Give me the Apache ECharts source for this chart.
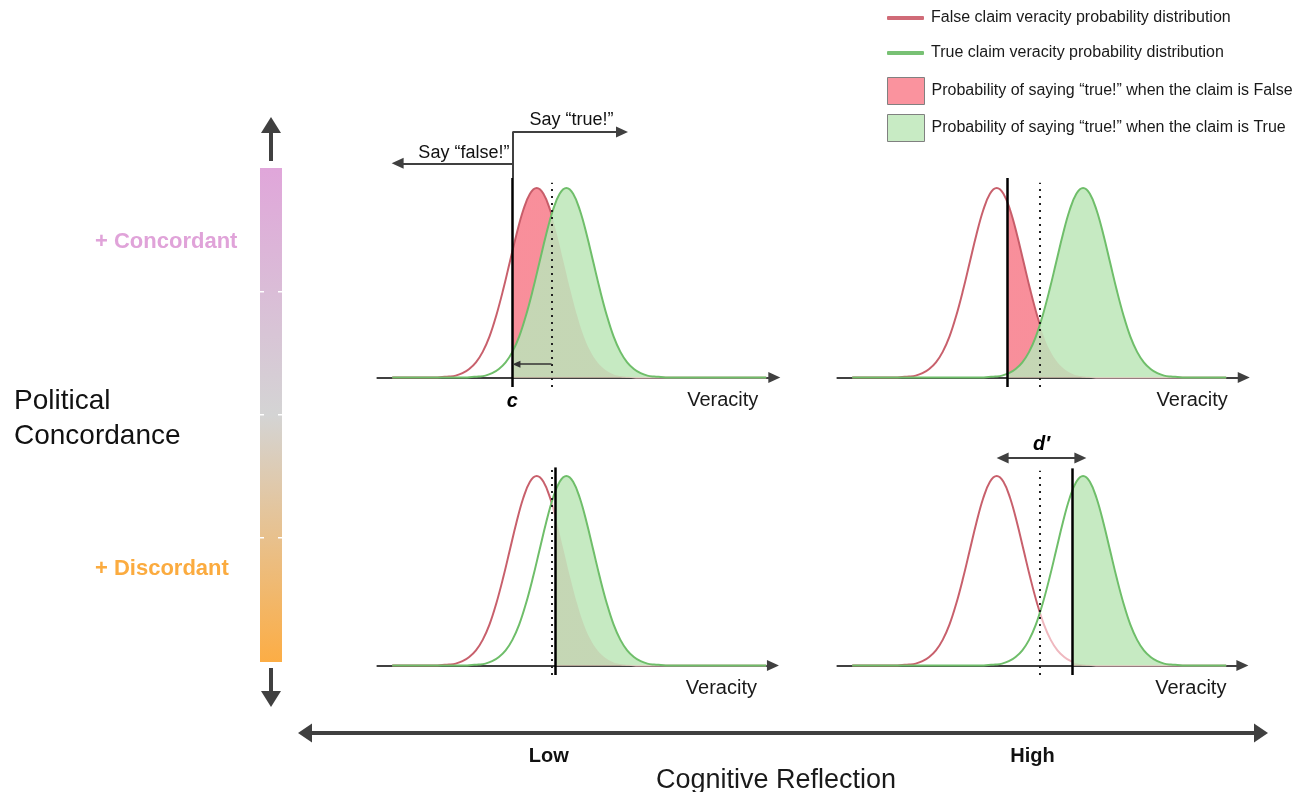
<!DOCTYPE html>
<html><head><meta charset="utf-8">
<script src="https://cdn.jsdelivr.net/npm/echarts@6/dist/echarts.min.js"></script>
<style>html,body{margin:0;padding:0;background:#fff}#chart{width:1313px;height:792px}</style>
</head><body><div id="chart"></div>
<script>
// ---------------- data ----------------
// panel order: top-left, top-right, bottom-left, bottom-right
const panelNames = ['Low reflection, concordant', 'High reflection, concordant', 'Low reflection, discordant', 'High reflection, discordant'];
const falseClaimMean = [0, 0, 0, 0];          // peak of the false-claim curve (veracity units)
const trueClaimMean = [1.1, 3.2, 1.1, 3.2];   // peak of the true-claim curve
const criterionC = [-0.9, 0.4, 0.7, 2.8];     // solid criterion line
const dottedMidpoint = [0.55, 1.6, 0.55, 1.6];// dotted neutral line (curves cross here)
const curveExtent = [-5.35, 8.5];             // where the drawn curves start / end
// curve height read at offsets from its peak
const profileOffset = [-4, -3.75, -3.5, -3.25, -3, -2.75, -2.5, -2.25, -2, -1.75, -1.5, -1.25, -1, -0.75, -0.5, -0.25, 0,
  0.25, 0.5, 0.75, 1, 1.25, 1.5, 1.75, 2, 2.25, 2.5, 2.75, 3, 3.25, 3.5, 3.75, 4];
const profileHeight = [0.000, 0.000, 0.001, 0.002, 0.004, 0.009, 0.018, 0.032, 0.054, 0.086, 0.130, 0.183, 0.242, 0.301, 0.352, 0.387, 0.399,
  0.387, 0.352, 0.301, 0.242, 0.183, 0.130, 0.086, 0.054, 0.032, 0.018, 0.009, 0.004, 0.002, 0.001, 0.000, 0.000];
const cognitiveLabels = ['Low', 'High'];
const cognitivePositions = [0.255, 0.761];
const nameFalseLine = 'False claim veracity probability distribution';
const nameTrueLine = 'True claim veracity probability distribution';
const nameFalseArea = 'Probability of saying \u201ctrue!\u201d when the claim is False';
const nameTrueArea = 'Probability of saying \u201ctrue!\u201d when the claim is True';

// ---------------- layout ----------------
const FONT = 'Liberation Sans, Arial, sans-serif';
const KX = 27, KY = 475;
const zeroPx = [536.7, 996.7, 536.7, 996.7];
const baseY = [377.5, 377.5, 665.5, 665.5];
const X_MIN = -5.9, xMaxs = [8.8, 9.15, 8.75, 9.1];
const Y_MIN = -0.02, Y_MAX = 0.53;
const critTop = [0.42, 0.42, 0.417, 0.415];
const dotTop = [0.41, 0.41, 0.417, 0.41];

function curve(mean) {
  const pts = [[curveExtent[0], 0]];
  profileOffset.forEach((o, i) => pts.push([mean + o, profileHeight[i]]));
  pts.push([curveExtent[1], 0]);
  return pts;
}
function stepGrad(x, before, after) {
  const o = Math.min(1, Math.max(0, (x - curveExtent[0]) / (curveExtent[1] - curveExtent[0])));
  return { type: 'linear', x: 0, y: 0, x2: 1, y2: 0,
    colorStops: [{ offset: 0, color: before }, { offset: o, color: before }, { offset: o, color: after }, { offset: 1, color: after }] };
}
const NONE = 'rgba(0,0,0,0)';

const grids = [], xAxes = [], yAxes = [], series = [];
for (let p = 0; p < 4; p++) {
  grids.push({ left: zeroPx[p] + X_MIN * KX, top: baseY[p] - Y_MAX * KY, width: (xMaxs[p] - X_MIN) * KX, height: (Y_MAX - Y_MIN) * KY,
    containLabel: false, outerBoundsMode: 'none' });
  xAxes.push({ gridIndex: p, type: 'value', min: X_MIN, max: xMaxs[p],
    axisLine: { onZero: true, lineStyle: { color: '#404040', width: 2 }, symbol: ['none', 'triangle'], symbolSize: [11, 12] },
    axisTick: { show: false }, axisLabel: { show: false }, splitLine: { show: false },
    name: 'Veracity', nameLocation: 'end', nameGap: -16,
    nameTextStyle: { fontSize: 20, color: '#1a1a1a', fontFamily: FONT, align: 'right', verticalAlign: 'top', padding: [13, 0, 0, 0] } });
  yAxes.push({ gridIndex: p, type: 'value', min: Y_MIN, max: Y_MAX, show: false });

  const red = curve(falseClaimMean[p]), green = curve(trueClaimMean[p]);
  const c = criterionC[p], mid = dottedMidpoint[p];
  const common = { type: 'line', xAxisIndex: p, yAxisIndex: p, smooth: 0.4, symbol: 'none', showSymbol: false, silent: true, clip: false, animation: false };
  series.push(Object.assign({}, common, { name: nameFalseArea, data: red, z: 1,
    lineStyle: { width: 0, color: '#fa939e' }, itemStyle: { color: '#fa939e' },
    areaStyle: { opacity: 1, color: stepGrad(c, NONE, '#ff9aa5') } }));
  series.push(Object.assign({}, common, { name: nameFalseLine, data: red, z: 2,
    itemStyle: { color: '#c8606c' },
    lineStyle: { width: 2, color: stepGrad(mid, '#c8606c', '#efb8bf') } }));
  series.push(Object.assign({}, common, { name: nameTrueArea, data: green, z: 3,
    lineStyle: { width: 0, color: '#c6eac2' }, itemStyle: { color: '#c6eac2' },
    areaStyle: { opacity: 1, color: stepGrad(c, NONE, '#c6eac2') } }));
  series.push(Object.assign({}, common, { name: 'overlap', data: red, z: 4,
    lineStyle: { width: 0 }, areaStyle: { opacity: 1, color: stepGrad(c, NONE, 'rgba(188,44,64,0.1)') } }));

  const ml = [
    [{ coord: [c, Y_MIN], lineStyle: { color: '#000', width: 2.5, type: 'solid' },
       label: p === 0 ? { show: true, position: 'start', formatter: 'c', distance: 4, fontSize: 20, fontStyle: 'italic', fontWeight: 'bold', color: '#000', fontFamily: FONT } : { show: false } },
     { coord: [c, critTop[p]] }],
    [{ coord: [mid, Y_MIN], lineStyle: { color: '#222', width: 2, type: [2, 5] } }, { coord: [mid, dotTop[p]] }]
  ];
  if (p === 0) {
    ml.push([{ coord: [mid, 0.028], lineStyle: { color: '#333', width: 1.5, type: 'solid' } },
             { coord: [c + 0.15, 0.028], symbol: 'triangle', symbolSize: [7, 8] }]);
    ml.push([{ coord: [c, 0.42], lineStyle: { color: '#404040', width: 2, type: 'solid' } }, { coord: [c, 0.517] }]);
    ml.push([{ coord: [c, 0.517], lineStyle: { color: '#404040', width: 2, type: 'solid' },
               label: { show: true, position: 'insideStartTop', formatter: 'Say \u201ctrue!\u201d', distance: [17, 3], fontSize: 18, color: '#111', fontFamily: FONT } },
             { coord: [3.16, 0.517], symbol: 'triangle', symbolSize: [11, 12] }]);
    ml.push([{ coord: [c, 0.451], lineStyle: { color: '#404040', width: 2, type: 'solid' },
               label: { show: true, position: 'insideStartTop', formatter: 'Say \u201cfalse!\u201d', distance: [3, 1], fontSize: 18, color: '#111', fontFamily: FONT } },
             { coord: [-5.15, 0.451], symbol: 'triangle', symbolSize: [11, 12] }]);
  }
  if (p === 3) {
    ml.push([{ coord: [0.22, 0.437], symbol: 'triangle', symbolSize: [11, 12], lineStyle: { color: '#404040', width: 2, type: 'solid' },
               label: { show: true, position: 'middle', formatter: 'd\u2032', distance: 3, fontSize: 20, fontStyle: 'italic', fontWeight: 'bold', color: '#000', fontFamily: FONT } },
             { coord: [3.1, 0.437], symbol: 'triangle', symbolSize: [11, 12] }]);
  }
  series.push(Object.assign({}, common, { name: nameTrueLine, data: green, z: 5,
    itemStyle: { color: '#6fbe6a' }, lineStyle: { width: 2, color: '#6fbe6a' },
    markLine: { silent: true, animation: false, z: 10, symbol: ['none', 'none'], label: { show: false }, emphasis: { disabled: true }, data: ml } }));
}
// Cognitive reflection axis
grids.push({ left: 305, width: 956, top: 700, height: 33, containLabel: false, outerBoundsMode: 'none' });
xAxes.push({ gridIndex: 4, type: 'value', min: 0, max: 1,
  axisLine: { onZero: false, lineStyle: { color: '#404040', width: 4 }, symbol: ['triangle', 'triangle'], symbolSize: [19, 14] },
  axisTick: { show: false }, splitLine: { show: false },
  axisLabel: { customValues: cognitivePositions, margin: 13, fontSize: 20, fontWeight: 'bold', color: '#111', fontFamily: FONT,
    formatter: v => { let b = 0; cognitivePositions.forEach((q, i) => { if (Math.abs(q - v) < Math.abs(cognitivePositions[b] - v)) b = i; }); return cognitiveLabels[b]; } },
  name: 'Cognitive Reflection', nameLocation: 'middle', nameGap: 27,
  nameTextStyle: { fontSize: 27, color: '#1a1a1a', fontFamily: FONT, padding: [0, 14, 0, 0] } });
yAxes.push({ gridIndex: 4, type: 'value', min: 0, max: 1, show: false });

const barGrad = { type: 'linear', x: 0, y: 0, x2: 0, y2: 1,
  colorStops: [{ offset: 0, color: '#e0a6da' }, { offset: 0.5, color: '#d4d4d4' }, { offset: 1, color: '#fcad45' }] };
const graphic = [
  { type: 'text', x: 14, y: 419, style: { text: 'Political\nConcordance', font: '28px ' + FONT, lineHeight: 35, fill: '#111', verticalAlign: 'middle' } },
  { type: 'text', x: 95, y: 242, style: { text: '+ Concordant', font: 'bold 22px ' + FONT, fill: '#e0a3d9', verticalAlign: 'middle' } },
  { type: 'text', x: 95, y: 569, style: { text: '+ Discordant', font: 'bold 22px ' + FONT, fill: '#fbab3f', verticalAlign: 'middle' } },
  { type: 'rect', shape: { x: 260, y: 168, width: 22, height: 494 }, style: { fill: barGrad } },
  { type: 'line', shape: { x1: 271, y1: 161, x2: 271, y2: 128 }, style: { stroke: '#404040', lineWidth: 4 } },
  { type: 'polygon', shape: { points: [[261, 133], [281, 133], [271, 117]] }, style: { fill: '#404040' } },
  { type: 'line', shape: { x1: 271, y1: 668, x2: 271, y2: 696 }, style: { stroke: '#404040', lineWidth: 4 } },
  { type: 'polygon', shape: { points: [[261, 691], [281, 691], [271, 707]] }, style: { fill: '#404040' } }
];
[291, 414, 537].forEach(y => {
  graphic.push({ type: 'rect', shape: { x: 260, y: y, width: 4, height: 1.5 }, style: { fill: '#fff' } });
  graphic.push({ type: 'rect', shape: { x: 278, y: y, width: 4, height: 1.5 }, style: { fill: '#fff' } });
});

const legendText = { fontSize: 16, color: '#1a1a1a', fontFamily: FONT, padding: [0, 0, 0, 2] };
const option = {
  animation: false,
  backgroundColor: '#fff',
  textStyle: { fontFamily: FONT },
  grid: grids, xAxis: xAxes, yAxis: yAxes, series: series, graphic: graphic,
  legend: [
    { orient: 'vertical', left: 887, top: 10, padding: 0, itemWidth: 37, itemHeight: 4, itemGap: 19, selectedMode: false, textStyle: legendText,
      data: [{ name: nameFalseLine, icon: 'roundRect', itemStyle: { color: '#d06b77', borderWidth: 0 } },
             { name: nameTrueLine, icon: 'roundRect', itemStyle: { color: '#78c174', borderWidth: 0 } }] },
    { orient: 'vertical', left: 887, top: 77, padding: 0, itemWidth: 37, itemHeight: 27, itemGap: 9, selectedMode: false, textStyle: legendText,
      data: [{ name: nameFalseArea, icon: 'rect', itemStyle: { color: '#fa939e', borderColor: '#808080', borderWidth: 1 } },
             { name: nameTrueArea, icon: 'rect', itemStyle: { color: '#c8ebc4', borderColor: '#808080', borderWidth: 1 } }] }
  ]
};
const chart = echarts.init(document.getElementById('chart'), null, { renderer: 'canvas' });
chart.setOption(option);
</script>
</body></html>
